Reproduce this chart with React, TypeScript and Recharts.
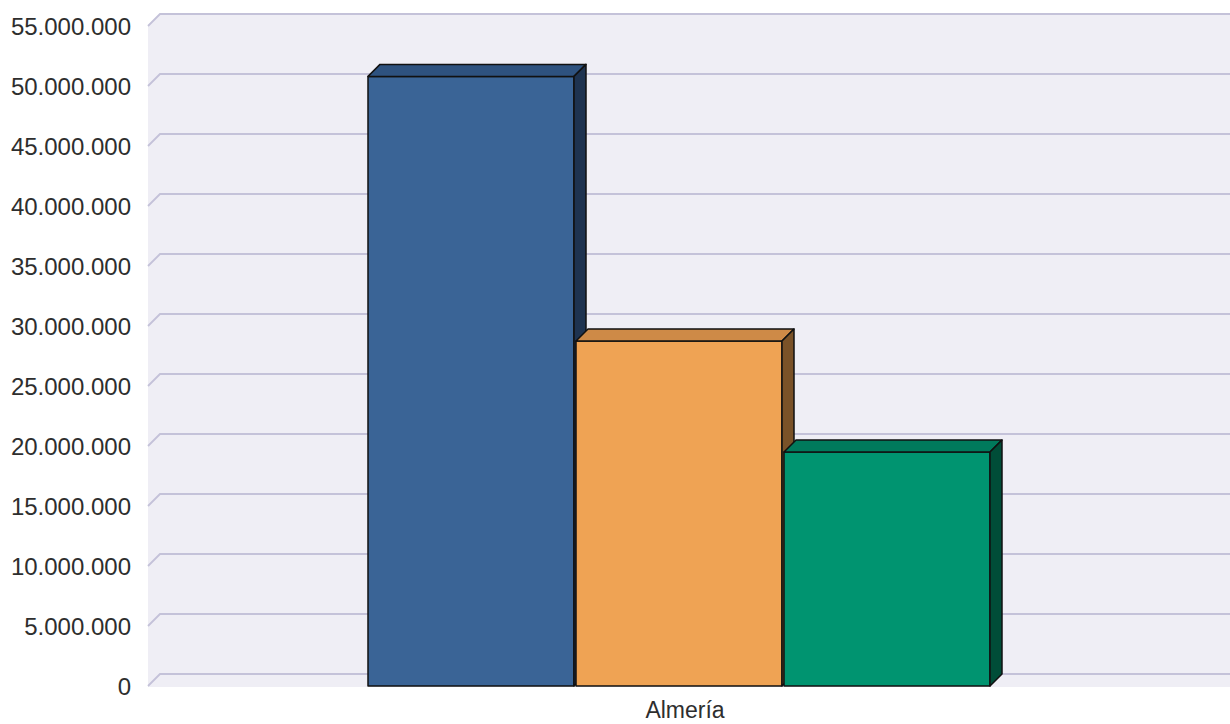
import React from "react";
import { BarChart, Bar, XAxis, YAxis, CartesianGrid } from "recharts";

const categories = ["Almería"];
const serieA = [50800000];
const serieB = [28750000];
const serieC = [19500000];
const yTicks = [0, 5000000, 10000000, 15000000, 20000000, 25000000, 30000000, 35000000, 40000000, 45000000, 50000000, 55000000];

const chartData = categories.map((c, i) => ({
  region: c,
  a: serieA[i],
  b: serieB[i],
  c: serieC[i],
}));

const W = 1230;
const H = 724;
const DEPTH = 12;
const M = { top: 26, right: 12, left: 0, bottom: 8 };
const Y_AXIS_W = 148;
const X_AXIS_H = 30;
const PLOT_LEFT = M.left + Y_AXIS_W;
const PLOT_RIGHT = W - M.right;
const PLOT_TOP = M.top;
const PLOT_BOTTOM = H - M.bottom - X_AXIS_H;

const WALL = "#EFEEF5";
const GRID = "#C4C2D9";
const TEXT = "#2E2E2E";

const fmt = (v: number) => String(v).replace(/\B(?=(\d{3})+(?!\d))/g, ".");

const makeBar3D = (front: string, top: string, side: string) => (props: any) => {
  const { x, y, width, height } = props;
  if (width == null || height == null) return <g />;
  const d = DEPTH;
  return (
    <g stroke="#111" strokeWidth={1.5} strokeLinejoin="round">
      <rect x={x} y={y} width={width} height={height} fill={front} />
      <polygon
        points={`${x},${y} ${x + d},${y - d} ${x + width + d},${y - d} ${x + width},${y}`}
        fill={top}
      />
      <polygon
        points={`${x + width},${y} ${x + width + d},${y - d} ${x + width + d},${y + height - d} ${x + width},${y + height}`}
        fill={side}
      />
    </g>
  );
};

const wallRenderer = (p: any) => (
  <polygon
    key={p.key}
    points={`${PLOT_LEFT},${PLOT_BOTTOM + 1} ${PLOT_LEFT},${PLOT_TOP} ${PLOT_LEFT + DEPTH},${PLOT_TOP - DEPTH} ${PLOT_RIGHT + DEPTH},${PLOT_TOP - DEPTH} ${PLOT_RIGHT + DEPTH},${PLOT_BOTTOM + 1}`}
    fill={WALL}
    stroke="none"
  />
);

const lineRenderer = (p: any) => (
  <path
    key={p.key}
    d={`M${p.x1},${p.y1} L${p.x1 + DEPTH},${p.y1 - DEPTH} L${p.x2 + DEPTH},${p.y1 - DEPTH}`}
    fill="none"
    stroke={GRID}
    strokeWidth={1.8}
  />
);

const XTick = (props: any) => {
  const { x, y, payload } = props;
  return (
    <text x={x + 6} y={y} dy="0.71em" textAnchor="middle" fill={TEXT} fontSize={23}>
      {payload.value}
    </text>
  );
};

export default function App() {
  return (
    <div style={{ width: W, height: H, fontFamily: "'Liberation Sans', Arial, sans-serif" }}>
      <style>{`body{margin:0}`}</style>
      <BarChart width={W} height={H} data={chartData} margin={M} barGap={2} barSize={206}>
        <CartesianGrid horizontal={wallRenderer} vertical={false} />
        <CartesianGrid horizontal={lineRenderer} vertical={false} />
        <XAxis
          dataKey="region"
          height={X_AXIS_H}
          axisLine={false}
          tickLine={false}
          tickSize={8}
          tickMargin={8}
          padding={{ left: 0, right: 8 }}
          tick={<XTick />}
        />
        <YAxis
          width={Y_AXIS_W}
          domain={[0, 55000000]}
          ticks={yTicks}
          interval={0}
          axisLine={false}
          tickLine={false}
          tickSize={6}
          tickMargin={11}
          tickFormatter={fmt}
          tick={{ fill: TEXT, fontSize: 24 }}
        />
        <Bar dataKey="a" fill="#3A6496" isAnimationActive={false} shape={makeBar3D("#3A6496", "#2E527F", "#1E3350")} />
        <Bar dataKey="b" fill="#EFA354" isAnimationActive={false} shape={makeBar3D("#EFA354", "#CE8A47", "#7A5228")} />
        <Bar dataKey="c" fill="#009470" isAnimationActive={false} shape={makeBar3D("#009470", "#007A5C", "#004D38")} />
      </BarChart>
    </div>
  );
}
